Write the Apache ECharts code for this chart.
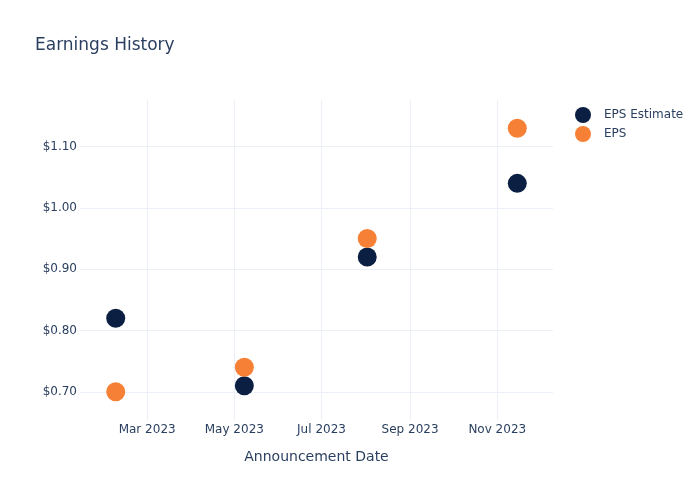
<!DOCTYPE html>
<html>
<head>
<meta charset="utf-8">
<script src="https://cdn.jsdelivr.net/npm/echarts@6/dist/echarts.min.js"></script>
<style>html,body{margin:0;padding:0;background:#fff}#c{width:700px;height:500px}</style>
</head>
<body>
<div id="c"></div>
<script>
const dates = ['2023-02-07', '2023-05-08', '2023-08-02', '2023-11-15'];
const epsEstimate = [0.82, 0.71, 0.92, 1.04];
const eps = [0.70, 0.74, 0.95, 1.13];
const yTicks = [0.70, 0.80, 0.90, 1.00, 1.10];
const xTicks = ['2023-03-01', '2023-05-01', '2023-07-01', '2023-09-01', '2023-11-01'];
const monthNames = ['Jan','Feb','Mar','Apr','May','Jun','Jul','Aug','Sep','Oct','Nov','Dec'];

const FONT = 'DejaVu Sans';
const TXT = '#2a3f5f';
const GRID = '#ebf0f8';

const chart = echarts.init(document.getElementById('c'), null, {renderer: 'canvas'});
chart.setOption({
  animation: false,
  textStyle: {fontFamily: FONT},
  title: {
    text: 'Earnings History', left: 35, top: 37, padding: 0,
    textStyle: {fontFamily: FONT, fontSize: 17, fontWeight: 'normal', color: TXT}
  },
  legend: {
    orient: 'vertical', left: 570, top: 102, itemGap: 3,
    itemWidth: 16, itemHeight: 16, icon: 'circle',
    textStyle: {fontFamily: FONT, fontSize: 12, color: TXT, padding: [0, 0, 0, 8]},
    data: ['EPS Estimate', 'EPS']
  },
  grid: {left: 80, right: 147, top: 100, bottom: 80, containLabel: false},
  xAxis: {
    type: 'time',
    min: '2023-01-13', max: '2023-12-10',
    minInterval: 66 * 86400000, maxInterval: 66 * 86400000,
    name: 'Announcement Date', nameLocation: 'middle', nameGap: 30,
    nameTextStyle: {fontFamily: FONT, fontSize: 14, color: TXT},
    axisLine: {show: false}, axisTick: {show: false},
    axisLabel: {
      fontFamily: FONT, fontSize: 12, color: TXT, margin: 4,
      formatter: function (v) { const d = new Date(v); return monthNames[d.getMonth()] + ' ' + d.getFullYear(); }
    },
    splitLine: {show: false}
  },
  yAxis: {
    type: 'value', min: 0.654, max: 1.176,
    axisLine: {show: false}, axisTick: {show: false},
    axisLabel: {show: false},
    splitLine: {show: false}
  },
  series: [
    {
      name: 'gridlines', type: 'scatter', z: 1, data: [],
      markLine: {
        silent: true, symbol: 'none', animation: false, z: 1,
        lineStyle: {color: GRID, width: 1, type: 'solid'},
        label: {
          position: 'start', distance: 3, fontFamily: FONT, fontSize: 12, color: TXT,
          formatter: function (p) { return p.data.yAxis != null ? '$' + Number(p.value).toFixed(2) : ''; }
        },
        emphasis: {disabled: true},
        data: yTicks.map(v => ({yAxis: v})).concat(xTicks.map(v => ({xAxis: v, label: {show: false}})))
      }
    },
    {
      name: 'EPS Estimate', type: 'scatter', symbolSize: 19, z: 3,
      itemStyle: {color: '#0b1f42', opacity: 1},
      data: dates.map((d, i) => [d, epsEstimate[i]])
    },
    {
      name: 'EPS', type: 'scatter', symbolSize: 19, z: 4,
      itemStyle: {color: '#f68035', opacity: 1},
      data: dates.map((d, i) => [d, eps[i]])
    }
  ]
});
</script>
</body>
</html>
